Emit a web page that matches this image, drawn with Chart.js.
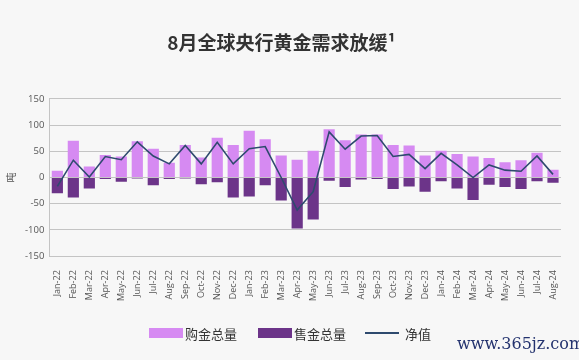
<!DOCTYPE html>
<html>
<head>
<meta charset="utf-8">
<script src="https://cdn.jsdelivr.net/npm/chart.js@4"></script>
<style>
    body { margin: 0; background: #f7f7f7; }
    #wrap { position: relative; width: 579px; height: 360px; }
    #legend { position: absolute; left: 149px; top: 322px; font: 13px "Noto Sans CJK SC"; color: #333; white-space: nowrap; }
    #legend span { display: inline-block; vertical-align: middle; }
    .box { width: 34px; height: 10px; margin-right: 2px; }
    .ln { width: 34px; height: 2px; background: #2e4a6e; margin-right: 6px; }
    #marca { position: absolute; left: 457px; top: 334px; font: 16px "DejaVu Serif"; color: #23326e; }
</style>
</head>
<body>
<div id="wrap">
    <canvas id="myChart" width="579" height="360"></canvas>
    <div id="legend">
        <span class="box" style="background:#d68af2"></span><span style="margin-right:18px">购金总量</span>
        <span class="box" style="background:#6c3489"></span><span style="margin-right:16px">售金总量</span>
        <span class="ln"></span><span>净值</span>
    </div>
    <div id="marca">www.365jz.com</div>
</div>
<script>
const meses = ['Jan-22', 'Feb-22', 'Mar-22', 'Apr-22', 'May-22', 'Jun-22', 'Jul-22', 'Aug-22',
    'Sep-22', 'Oct-22', 'Nov-22', 'Dec-22', 'Jan-23', 'Feb-23', 'Mar-23', 'Apr-23',
    'May-23', 'Jun-23', 'Jul-23', 'Aug-23', 'Sep-23', 'Oct-23', 'Nov-23', 'Dec-23',
    'Jan-24', 'Feb-24', 'Mar-24', 'Apr-24', 'May-24', 'Jun-24', 'Jul-24', 'Aug-24'];

// 购金总量
const compras = [13, 70, 21, 43, 40, 69, 55, 28, 62, 38, 76, 62, 89, 73, 42, 34,
    51, 92, 71, 82, 82, 62, 61, 42, 51, 45, 40, 37, 29, 33, 47, 15];

// 售金总量
const ventas = [-30, -38, -21, -3, -8, -2, -15, -3, -2, -13, -9, -38, -36, -15, -44, -97,
    -80, -6, -18, -4, -3, -22, -17, -27, -7, -21, -43, -14, -18, -22, -7, -10];

// 净值
const neto = [-17, 33, 1, 40, 34, 68, 41, 26, 61, 26, 67, 26, 55, 59, 0, -62,
    -27, 87, 54, 79, 80, 40, 44, 17, 46, 24, 0, 24, 14, 12, 41, 6];

const ticksY = [-150, -100, -50, 0, 50, 100, 150];

const fuente = "'Open Sans', 'Noto Sans CJK SC', sans-serif";

const fondo = {
    id: 'fondo',
    beforeDraw(chart) {
        const ctx = chart.ctx;
        ctx.save();
        ctx.fillStyle = '#f7f7f7';
        ctx.fillRect(0, 0, chart.width, chart.height);
        ctx.restore();
    }
};

const datas = {
    labels: meses,
    datasets: [
        {
            type: 'line',
            label: '净值',
            data: neto,
            borderColor: '#2e4a6e',
            borderWidth: 1.6,
            pointRadius: 0,
            tension: 0,
            order: 0
        },
        {
            type: 'bar',
            label: '购金总量',
            data: compras,
            backgroundColor: '#d68af2',
            barPercentage: 0.7,
            categoryPercentage: 1,
            order: 1
        },
        {
            type: 'bar',
            label: '售金总量',
            data: ventas,
            backgroundColor: '#6c3489',
            barPercentage: 0.7,
            categoryPercentage: 1,
            order: 1
        }
    ]
};

const config = {
    data: datas,
    plugins: [fondo],
    options: {
        responsive: false,
        animation: false,
        layout: { padding: { left: 2, right: 18, top: 0, bottom: 53 } },
        plugins: {
            legend: { display: false },
            tooltip: { enabled: false },
            title: {
                display: true,
                text: '8月全球央行黄金需求放缓¹',
                color: '#333',
                font: { family: "'Noto Sans CJK SC'", size: 19, weight: 'bold' },
                padding: { top: 31, bottom: 45 }
            }
        },
        scales: {
            x: {
                stacked: true,
                grid: { display: false },
                border: { display: false },
                ticks: {
                    color: '#555',
                    font: { family: fuente, size: 9 },
                    maxRotation: 90,
                    minRotation: 90,
                    autoSkip: false,
                    padding: 6
                }
            },
            y: {
                stacked: true,
                min: -150,
                max: 150,
                afterBuildTicks: axis => { axis.ticks = ticksY.map(v => ({ value: v })); },
                grid: { color: '#c4c4c4', lineWidth: 1, drawTicks: false },
                border: { display: true, color: '#c4c4c4' },
                ticks: {
                    color: '#555',
                    font: { family: fuente, size: 9.5 },
                    padding: 5
                },
                title: {
                    display: true,
                    text: '吨',
                    color: '#555',
                    font: { family: "'Noto Sans CJK SC'", size: 10 },
                    padding: 3
                }
            }
        }
    }
};

const myChart = new Chart(document.getElementById('myChart'), config);
</script>
</body>
</html>
